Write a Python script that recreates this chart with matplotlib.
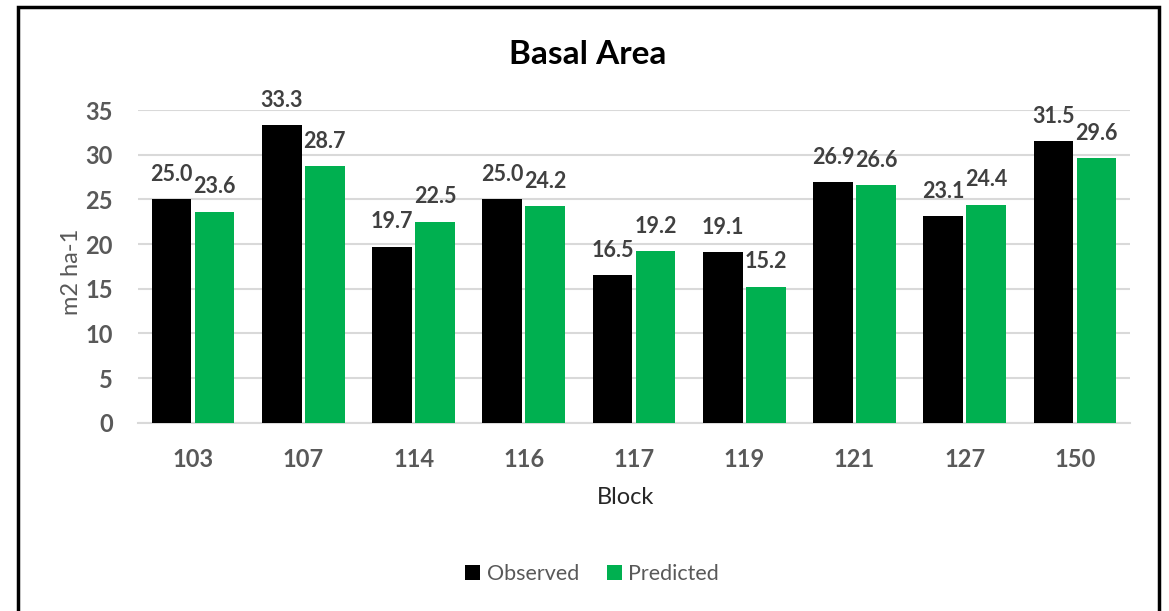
import matplotlib
matplotlib.use("Agg")
import matplotlib.pyplot as plt
import numpy as np
from matplotlib.patches import Rectangle

blocks = ["103", "107", "114", "116", "117", "119", "121", "127", "150"]
observed = [25.0, 33.3, 19.7, 25.0, 16.5, 19.1, 26.9, 23.1, 31.5]
predicted = [23.6, 28.7, 22.5, 24.2, 19.2, 15.2, 26.6, 24.4, 29.6]
yticks = [0, 5, 10, 15, 20, 25, 30, 35]

plt.rcParams['font.family'] = ['Lato', 'DejaVu Sans']
GRAY = '#595959'
BLACK = '#000000'
GREEN = '#00B050'

W, H = 1169, 611
fig = plt.figure(figsize=(W/100, H/100), dpi=100)
ax = fig.add_axes([138/W, 1-422.7/H, (1130-138)/W, (422.7-110)/H])

x = np.arange(len(blocks))
bw = 0.36
off = 0.195
ax.bar(x - off, observed, bw, color=BLACK, label='Observed', zorder=3)
ax.bar(x + off, predicted, bw, color=GREEN, label='Predicted', zorder=3)

for xi, v in zip(x - off, observed):
    ax.annotate(f"{v:.1f}", (xi, v), xytext=(0, 18), textcoords='offset points',
                ha='center', va='center', fontsize=15.5, fontweight='bold', color='#404040')
for xi, v in zip(x + off, predicted):
    ax.annotate(f"{v:.1f}", (xi, v), xytext=(0, 18), textcoords='offset points',
                ha='center', va='center', fontsize=15.5, fontweight='bold', color='#404040')

ax.set_xlim(-0.5, len(blocks) - 0.5)
ax.set_ylim(0, 35)
ax.set_yticks(yticks)
ax.set_xticks(x)
ax.set_xticklabels(blocks)
ax.grid(axis='y', color='#D9D9D9', linewidth=1.5, zorder=0)
ax.set_axisbelow(True)
for s in ['top', 'right', 'left']:
    ax.spines[s].set_visible(False)
ax.spines['bottom'].set_color('#D9D9D9')
ax.spines['bottom'].set_linewidth(1.5)
ax.tick_params(axis='both', length=0, colors=GRAY, labelsize=17)
for lab in ax.get_xticklabels() + ax.get_yticklabels():
    lab.set_fontweight('bold')
ax.tick_params(axis='y', pad=18)
ax.tick_params(axis='x', pad=18)

fig.text(588/W, 1-55/H, "Basal Area", ha='center', va='center', fontsize=24, fontweight='bold', color='black')
fig.text(72/W, 1-272/H, "m2 ha-1", ha='center', va='center', rotation=90, fontsize=17, color=GRAY)
fig.text(626/W, 1-497/H, "Block", ha='center', va='center', fontsize=17, color='#262626')

handles, labels = ax.get_legend_handles_labels()
leg = fig.legend(handles, labels, loc='center', bbox_to_anchor=(592/W, 1-574/H), ncol=2,
                 frameon=False, fontsize=15.5, handlelength=0.7, handleheight=0.7,
                 handletextpad=0.3, columnspacing=1.3)
for t in leg.get_texts():
    t.set_color(GRAY)

fig.patches.append(Rectangle((18/W, -0.05), (1159-18)/W, 1.05-7/H, transform=fig.transFigure,
                             fill=False, edgecolor='black', linewidth=2.5))

fig.savefig("out.png", dpi=100)
